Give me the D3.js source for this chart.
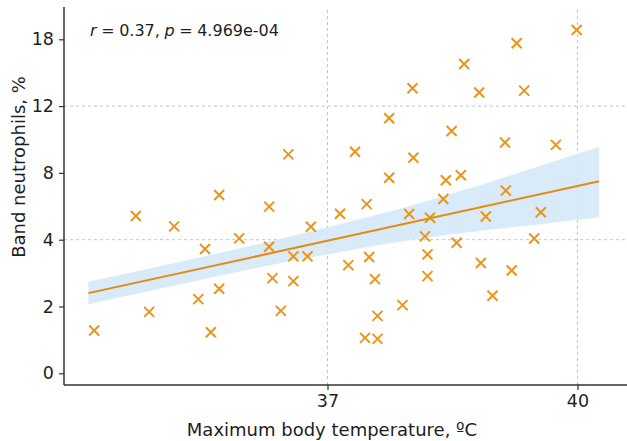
<!DOCTYPE html>
<html><head><meta charset="utf-8">
<script src="https://cdn.jsdelivr.net/npm/d3@7"></script>
<style>
html,body{margin:0;padding:0;background:#fff;}
svg{display:block;font-family:"DejaVu Sans",sans-serif;}
</style></head>
<body><svg id="c" width="627" height="441"></svg>
<script>
const tempX = [34.20,34.70,34.86,35.16,35.45,35.53,35.60,35.70,35.70,35.94,36.30,36.30,36.34,36.44,36.53,36.59,36.59,36.76,36.80,37.15,37.25,37.33,37.47,37.50,37.57,37.45,37.60,37.60,37.74,37.74,37.90,37.98,38.02,38.03,38.17,38.20,38.20,38.23,38.39,38.42,38.49,38.55,38.60,38.64,38.82,38.84,38.90,38.98,39.13,39.14,39.21,39.27,39.36,39.48,39.56,39.74,39.99];
const neutroY = [1.28,5.42,1.84,4.80,2.22,3.72,1.23,2.53,6.68,4.08,5.98,3.79,2.85,1.87,9.11,3.50,2.76,3.50,4.78,5.55,3.24,9.27,6.13,3.48,2.82,1.06,1.03,1.72,11.27,7.71,2.04,5.54,13.60,8.91,4.20,3.56,2.91,5.31,6.44,7.56,10.51,3.91,7.86,15.78,13.22,3.30,5.39,2.32,9.82,6.94,3.08,17.64,13.39,4.07,5.64,9.68,18.84];
const fitX = [34.13, 40.26];
const fitY = [2.40, 7.50];
const bandX = [34.13,35.0,36.0,36.5,37.0,37.5,38.0,38.5,39.0,39.5,40.26];
const bandLow = [2.07,2.54,3.08,3.33,3.56,3.79,3.99,4.32,4.62,4.90,5.34];
const bandHigh = [2.74,3.21,3.77,4.13,4.74,5.38,6.04,6.77,7.53,8.34,9.57];
const yTicks = [0,2,4,8,12,18];
const xTicks = [37,40];
const yGrid = [4,12];
const xGrid = [37,40];
const annotation = {r:"0.37", p:"4.969e-04"};
const xTitle = "Maximum body temperature, ºC";
const yTitle = "Band neutrophils, %";

const svg = d3.select("#c");
const mLeft = 64, mRight = 627, mBottom = 385, mTop = 7;
const x = d3.scaleLinear().domain([33.838, 40.594]).range([mLeft, mRight]);
const y0 = 373.3, step = 66.8;
const y = d3.scaleLinear().domain(yTicks).range(yTicks.map((d,i)=>y0 - i*step));

const orange = "#e8951a";
// grid
svg.append("g").selectAll("line").data(yGrid).join("line")
  .attr("x1", mLeft).attr("x2", mRight).attr("y1", d=>y(d)).attr("y2", d=>y(d))
  .attr("stroke","#c4c4c4").attr("stroke-width",1).attr("stroke-dasharray","3,3");
svg.append("g").selectAll("line").data(xGrid).join("line")
  .attr("x1", d=>x(d)).attr("x2", d=>x(d)).attr("y1", 10).attr("y2", mBottom)
  .attr("stroke","#c4c4c4").attr("stroke-width",1).attr("stroke-dasharray","3,3");

// band
const band = bandX.map((d,i)=>({x:d, lo:bandLow[i], hi:bandHigh[i]}));
svg.append("path").datum(band)
  .attr("d", d3.area().x(d=>x(d.x)).y0(d=>y(d.lo)).y1(d=>y(d.hi)))
  .attr("fill","#d5e9f8").attr("opacity",0.9);

// fit line
svg.append("path").datum(fitX.map((d,i)=>[d,fitY[i]]))
  .attr("d", d3.line().x(d=>x(d[0])).y(d=>y(d[1])))
  .attr("stroke","#e28b12").attr("stroke-width",2).attr("fill","none");

// points
const s = 5;
svg.append("g").selectAll("path").data(tempX.map((d,i)=>[d,neutroY[i]])).join("path")
  .attr("d", d=>{const cx=x(d[0]), cy=y(d[1]);
    return `M${cx-s},${cy-s}L${cx+s},${cy+s}M${cx-s},${cy+s}L${cx+s},${cy-s}`;})
  .attr("stroke", orange).attr("stroke-width",2).attr("fill","none");

// axes
const yAxis = svg.append("g").attr("transform",`translate(${mLeft},0)`)
  .call(d3.axisLeft(y).tickValues(yTicks).tickFormat(d3.format("d")).tickSize(5).tickPadding(5).tickSizeOuter(0));
yAxis.select(".domain").remove();
yAxis.append("line").attr("x1",0).attr("x2",0).attr("y1",mTop).attr("y2",mBottom)
  .attr("stroke","#333").attr("stroke-width",1.5);
const xAxis = svg.append("g").attr("transform",`translate(0,${mBottom})`)
  .call(d3.axisBottom(x).tickValues(xTicks).tickFormat(d3.format("d")).tickSize(5).tickPadding(5).tickSizeOuter(0));
xAxis.select(".domain").remove();
xAxis.append("line").attr("x1",mLeft).attr("x2",mRight).attr("y1",0).attr("y2",0)
  .attr("stroke","#333").attr("stroke-width",1.5);
svg.selectAll(".tick line").attr("stroke","#333").attr("stroke-width",1.2);
svg.selectAll(".tick text").attr("font-size",17.5).attr("fill","#1e1e1e").attr("font-family","DejaVu Sans, sans-serif");

// titles
svg.append("text").attr("x", 332).attr("y", 436).attr("text-anchor","middle")
  .attr("font-size",18).attr("fill","#1e1e1e").text(xTitle);
svg.append("text").attr("transform","translate(25,167) rotate(-90)").attr("text-anchor","middle")
  .attr("font-size",18).attr("fill","#1e1e1e").text(yTitle);

// annotation
const t = svg.append("text").attr("x",90).attr("y",36).attr("font-size",16)
  .attr("word-spacing",-0.5).attr("fill","#1e1e1e");
t.append("tspan").attr("font-style","italic").text("r");
t.append("tspan").text(" = " + annotation.r + ", ");
t.append("tspan").attr("font-style","italic").text("p");
t.append("tspan").text(" = " + annotation.p);
</script></body></html>
